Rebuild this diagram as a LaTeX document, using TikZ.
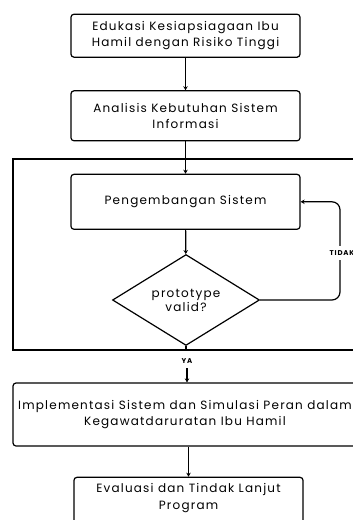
\documentclass[tikz,border=0pt]{standalone}
\usepackage{fontspec}
\setmainfont{Poppins}[LetterSpace=10]
\newfontfamily\tagfont{Poppins}[UprightFont=* Bold,LetterSpace=12]
\usetikzlibrary{shapes.geometric,arrows.meta}

\begin{document}
\begin{tikzpicture}[x=1pt,y=-1pt,line width=1.2pt,
   flow/.style={-{Stealth[length=4pt,width=4.5pt]}},
   box/.style={draw,rounded corners=3pt,minimum width=229pt,align=center,
      font=\fontsize{12}{16.5}\selectfont},
   tag/.style={font=\tagfont\fontsize{7}{7}\selectfont,fill=white,inner sep=1pt}]
   \useasboundingbox (0,0) rectangle (353,520);
   \clip (0,0) rectangle (353,520);
   % langkah utama
   \node[box,minimum height=43pt] (edukasi) at (185.5,35.7) {Edukasi Kesiapsiagaan Ibu\\Hamil dengan Risiko Tinggi};
   \node[box,minimum height=50pt] (analisis) at (185.5,115.8) {Analisis Kebutuhan Sistem\\Informasi};
   \draw (13,159) rectangle (370,350);
   \node[box,minimum height=55pt] (kembang) at (185.5,201.8) {Pengembangan Sistem};
   \node[draw,diamond,minimum width=147pt,minimum height=72pt,inner sep=0pt,align=center,
      font=\fontsize{12}{14}\selectfont] (valid) at (186,300) {prototype\\valid?};
   \node[box,minimum width=344pt,minimum height=63pt] (implement) at (185,414.5) {Implementasi Sistem dan Simulasi Peran dalam\\Kegawatdaruratan Ibu Hamil};
   \node[box,minimum height=60pt,anchor=north] (evaluasi) at (188.5,476.7) {};
   \node[font=\fontsize{12}{16.5}\selectfont,align=center,anchor=north] (evaluasiteks) at (188.5,479.5) {Evaluasi dan Tindak Lanjut\\Program};
   % panah
   \draw[flow] (edukasi) -- (analisis);
   \draw[flow] (analisis) -- (kembang);
   \draw[flow] (kembang) -- (valid);
   \coordinate (ya) at (187,361);
   \draw (valid.south) -- (valid.south |- 0,350);
   \node[tag] (yatag) at (ya) {YA};
   \draw[flow] (yatag.south |- 0,368) -- (implement.north -| yatag.south);
   \draw[flow] (implement.south -| evaluasi.north) -- (evaluasi.north);
   \draw[flow,rounded corners=8pt] (valid.east) -- (340,300) -- (340,201.8) -- (kembang.east);
   \node[tag,inner ysep=5pt] (tidak) at (342,253) {TIDAK};
\end{tikzpicture}
\end{document}
